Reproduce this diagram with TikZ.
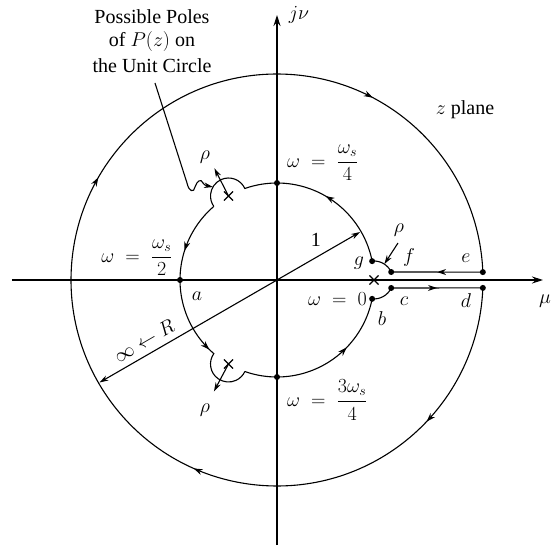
\RequirePackage{fix-cm}
\documentclass[tikz,border=0pt]{standalone}
\usepackage{amsmath}
\usepackage{fontspec}
\setmainfont{Liberation Serif}
\usetikzlibrary{arrows.meta,decorations.markings,shapes.misc}
\begin{document}
\begin{tikzpicture}[x=1pt,y=1pt,
  every node/.style={font=\fontsize{20}{24}\selectfont, inner sep=0pt},
  curve/.style={line width=1.1pt},
  axisline/.style={line width=1.2pt,-{Stealth[length=11pt,width=7pt]}},
  dot/.style={circle,fill,inner sep=0pt,minimum size=6pt},
  tipline/.style={line width=1.1pt,-{Stealth[length=9pt,width=5.5pt]}},
  pole/.style={cross out,draw,line width=1.1pt,minimum size=8pt,inner sep=0pt},
  arrowat/.style={postaction={decorate,decoration={markings,
      mark=at position #1 with {\arrow{Stealth[length=9pt,width=6pt]}}}}},
  arrowattwo/.style 2 args={postaction={decorate,decoration={markings,
      mark=at position #1 with {\arrow{Stealth[length=9pt,width=6pt]}},
      mark=at position #2 with {\arrow{Stealth[length=9pt,width=6pt]}}}}},
]
\useasboundingbox (-277,-272) rectangle (275,280);

% axes
\coordinate (xl) at (-265,0);
\coordinate (xr) at (266,0);
\coordinate (yb) at (0,-265);
\coordinate (yt) at (0,265);
\draw[axisline] (xl) -- (xr);
\draw[axisline] (yb) -- (yt);

% key points
\coordinate (O) at (0,0);
\coordinate (P) at (97,0);
\coordinate (P2) at (120:97);
\coordinate (P3) at (240:97);
\coordinate (d) at (-2.2:206);
\coordinate (e) at (2.2:206);
\coordinate (f) at (114.2,8);
\coordinate (c) at (114.2,-8);
\coordinate (g) at (11.2:97);
\coordinate (b) at (-11.2:97);
\coordinate (a) at (180:97);
\coordinate (top) at (90:97);
\coordinate (bot) at (270:97);
\coordinate (u1) at (130.65:97);
\coordinate (u2) at (250.65:97);

% outer circle
\draw[curve,postaction={decorate,decoration={markings,
   mark=at position 0.116 with {\arrow{Stealth[length=9pt,width=6pt]}},
   mark=at position 0.314 with {\arrow{Stealth[length=9pt,width=6pt]}},
   mark=at position 0.584 with {\arrow{Stealth[length=9pt,width=6pt]}},
   mark=at position 0.831 with {\arrow{Stealth[length=9pt,width=6pt]}}}}]
  (d) arc[start angle=-2.2,end angle=-357.8,radius=206];

% straight segments
\draw[curve,arrowat=0.5] (e) -- (f);
\draw[curve,arrowat=0.5] (c) -- (d);

% small detour around z=1
\draw[curve] (f) arc[start angle=24.9,end angle=95.6,radius=19];
\draw[curve] (b) arc[start angle=264.4,end angle=335.1,radius=19];

% inner unit circle with detours
\draw[curve,arrowat=0.365] (g) arc[start angle=11.2,end angle=109.35,radius=97]
  arc[start angle=24.7,end angle=215.3,radius=18];
\draw[curve,arrowattwo={0.237}{0.71}] (u1) arc[start angle=130.65,end angle=229.35,radius=97]
  arc[start angle=144.7,end angle=335.3,radius=18];
\draw[curve,arrowat=0.666] (u2) arc[start angle=250.65,end angle=348.8,radius=97];

% poles
\node[pole] (x1) at (P) {};
\node[pole] (x2) at (P2) {};
\node[pole] (x3) at (P3) {};

% dots
\foreach \p in {a,b,c,d,e,f,g,top,bot} \node[dot] at (\p) {};

% radius arrows
\coordinate (r1) at (30:96);
\coordinate (rR) at (210:205);
\draw[tipline] (O) -- (r1);
\draw[tipline] (O) -- (rR);

% rho arrows
\coordinate (rho1s) at (121,37);
\coordinate (rho1e) at ([shift={(57:19)}]P);
\draw[tipline] (rho1s) -- (rho1e);
\coordinate (rho2e) at ([shift={(117:31)}]P2);
\coordinate (rho3e) at ([shift={(242:31)}]P3);
\draw[tipline] (P2) -- (rho2e);
\draw[tipline] (P3) -- (rho3e);

% leader line
\coordinate (ld0) at (-122,197);
\coordinate (ld1) at (-64,93);
\draw[tipline] (ld0) -- (-90,97) .. controls (-88,88) and (-83,87) .. (-82,93)
  .. controls (-80,99) and (-76,102) .. (-74,97) .. controls (-72,94) and (-69,94) .. (ld1);

% labels
\node (t1) at (-125,263) {Possible Poles};
\node (t2) at (-125,238) {of $P(z)$ on};
\node (t3) at (-125,214) {the Unit Circle};
\node (jv) at (22,265) {$j\nu$};
\node (mu) at (268,-21) {$\mu$};
\node (zp) at (188,170) {$z$ plane};
\node[anchor=west] (w4) at (10,117) {$\omega\;=\;\dfrac{\omega_s}{4}$};
\node (w2) at (-140,22) {$\omega\;=\;\dfrac{\omega_s}{2}$};
\node[anchor=west] (w0) at (31,-19) {$\omega\;=\;0$};
\node[anchor=west] (w34) at (10,-120) {$\omega\;=\;\dfrac{3\omega_s}{4}$};
\node (la) at (-80,-16) {$a$};
\node (lb) at (105,-39) {$b$};
\node (lc) at (127,-21) {$c$};
\node (ld) at (189,-21) {$d$};
\node (le) at (189,22) {$e$};
\node (lf) at (132,23) {$f$};
\node (lg) at (82,17) {$g$};
\node (rho1) at (122,50) {$\rho$};
\node (rho2) at (-72,123) {$\rho$};
\node (rho3) at (-72,-130) {$\rho$};
\node (one) at (39,40) {1};
\node[rotate=30] (inf) at (-133,-61) {$\infty\leftarrow R$};
\end{tikzpicture}
\end{document}
